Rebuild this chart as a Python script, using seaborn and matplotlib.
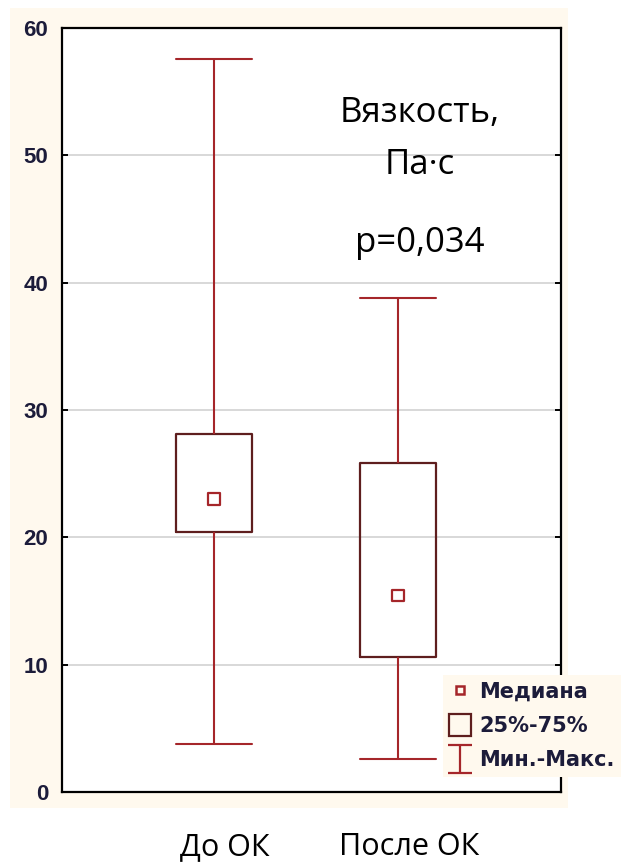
import numpy as np
import pandas as pd
import matplotlib
matplotlib.use("Agg")
import matplotlib.pyplot as plt
import matplotlib.transforms as mtransforms
from matplotlib.patches import Rectangle
from matplotlib.lines import Line2D
from matplotlib.path import Path
import seaborn as sns

# ---- data (five-number summaries) ----
categories = ["До ОК", "После ОК"]
mins = [3.8, 2.6]
q1s = [20.4, 10.6]
medians = [23.0, 15.4]
q3s = [28.1, 25.8]
maxs = [57.6, 38.8]
y_ticks = [0, 10, 20, 30, 40, 50, 60]
legend_labels = ["Медиана", "25%-75%", "Мин.-Макс."]
title_lines = ["Вязкость,", "Па·с", "p=0,034"]

rows = []
for c, a, b, m, d, e in zip(categories, mins, q1s, medians, q3s, maxs):
    for v in (a, b, m, d, e):
        rows.append({"group": c, "value": v})
df = pd.DataFrame(rows)
med_df = pd.DataFrame({"group": categories, "value": medians})

sns.set_theme(style="white")

BOX_C = "#5e1e1e"
WH_C = "#a5262a"
CREAM = "#fff9ee"
TXT_C = "#1c1c3a"

W, H = 623, 865
fig = plt.figure(figsize=(W / 100, H / 100), dpi=100)
fig.patch.set_facecolor("white")
fig.patches.append(Rectangle((10 / W, 1 - 808 / H), 558 / W, 800 / H,
                             transform=fig.transFigure, facecolor=CREAM,
                             edgecolor="none", zorder=-5))

ax = fig.add_axes([62 / W, 1 - 792 / H, (561 - 62) / W, (792 - 28) / H])
ax.set_facecolor("white")

sns.boxplot(data=df, x="group", y="value", order=categories, ax=ax,
            whis=(0, 100), width=0.41, fill=False, showfliers=False,
            linewidth=1.5, capwidths=0.41,
            boxprops=dict(color=BOX_C, linewidth=1.6),
            whiskerprops=dict(color=WH_C, linewidth=1.5),
            capprops=dict(color=WH_C, linewidth=1.5),
            medianprops=dict(linewidth=0, alpha=0))

sns.stripplot(data=med_df, x="group", y="value", order=categories, ax=ax,
              jitter=False, marker="s", size=8, color="white",
              edgecolor=WH_C, linewidth=1.6, zorder=5)
ax.collections[-1].set_facecolor("none")

ax.set_xlim(-0.826, 1.886)
ax.set_ylim(0, 60)
ax.set_yticks(y_ticks)
ax.set_yticklabels([str(t) for t in y_ticks])
ax.set_xlabel("")
ax.set_ylabel("")

ax.set_axisbelow(True)
ax.yaxis.grid(True, color="#d8d8d8", linewidth=1.4)
ax.xaxis.grid(False)
for s in ax.spines.values():
    s.set_visible(True)
    s.set_color("black")
    s.set_linewidth(1.6)

ax.tick_params(axis="y", which="both", direction="in", length=4, width=1.4,
               left=True, right=True, color="black", pad=10,
               labelsize=16, labelcolor=TXT_C)
for lab in ax.get_yticklabels():
    lab.set_fontfamily("Liberation Sans")
    lab.set_fontweight("bold")

ax.tick_params(axis="x", length=0, pad=29, labelsize=22, labelcolor="black")
offset = mtransforms.ScaledTranslation(11 / 100, 0, fig.dpi_scale_trans)
for lab in ax.get_xticklabels():
    lab.set_fontfamily("Open Sans")
    lab.set_transform(lab.get_transform() + offset)

# annotation text
ys = [0.877, 0.809, 0.707]
for t, yy in zip(title_lines, ys):
    ax.text(0.717, yy, t, transform=ax.transAxes, ha="center", va="baseline",
            fontsize=25, family="Open Sans", color="black")

# legend
ipath = Path([(-0.42, 0.5), (0.42, 0.5), (0, 0.5), (0, -0.5),
              (-0.42, -0.5), (0.42, -0.5)],
             [Path.MOVETO, Path.LINETO, Path.MOVETO, Path.LINETO,
              Path.MOVETO, Path.LINETO])
handles = [
    Line2D([], [], linestyle="none", marker="s", markersize=6,
           markerfacecolor="none", markeredgecolor=WH_C, markeredgewidth=1.8),
    Line2D([], [], linestyle="none", marker="s", markersize=16.5,
           markerfacecolor="none", markeredgecolor=BOX_C, markeredgewidth=1.6),
    Line2D([], [], linestyle="none", marker=ipath, markersize=20,
           markerfacecolor="none", markeredgecolor=WH_C, markeredgewidth=1.6),
]
leg = fig.legend(handles, legend_labels, loc="upper left",
                 bbox_to_anchor=(443 / W, 1 - 675 / H),
                 bbox_transform=fig.transFigure, borderaxespad=0,
                 frameon=True, fancybox=False, framealpha=1,
                 facecolor=CREAM, edgecolor="none",
                 prop={"family": "DejaVu Sans", "weight": "bold", "size": 15},
                 labelcolor=TXT_C, handlelength=1.05, handletextpad=0.4,
                 labelspacing=0.7, borderpad=0.3)

fig.savefig("out.png", dpi=100)
